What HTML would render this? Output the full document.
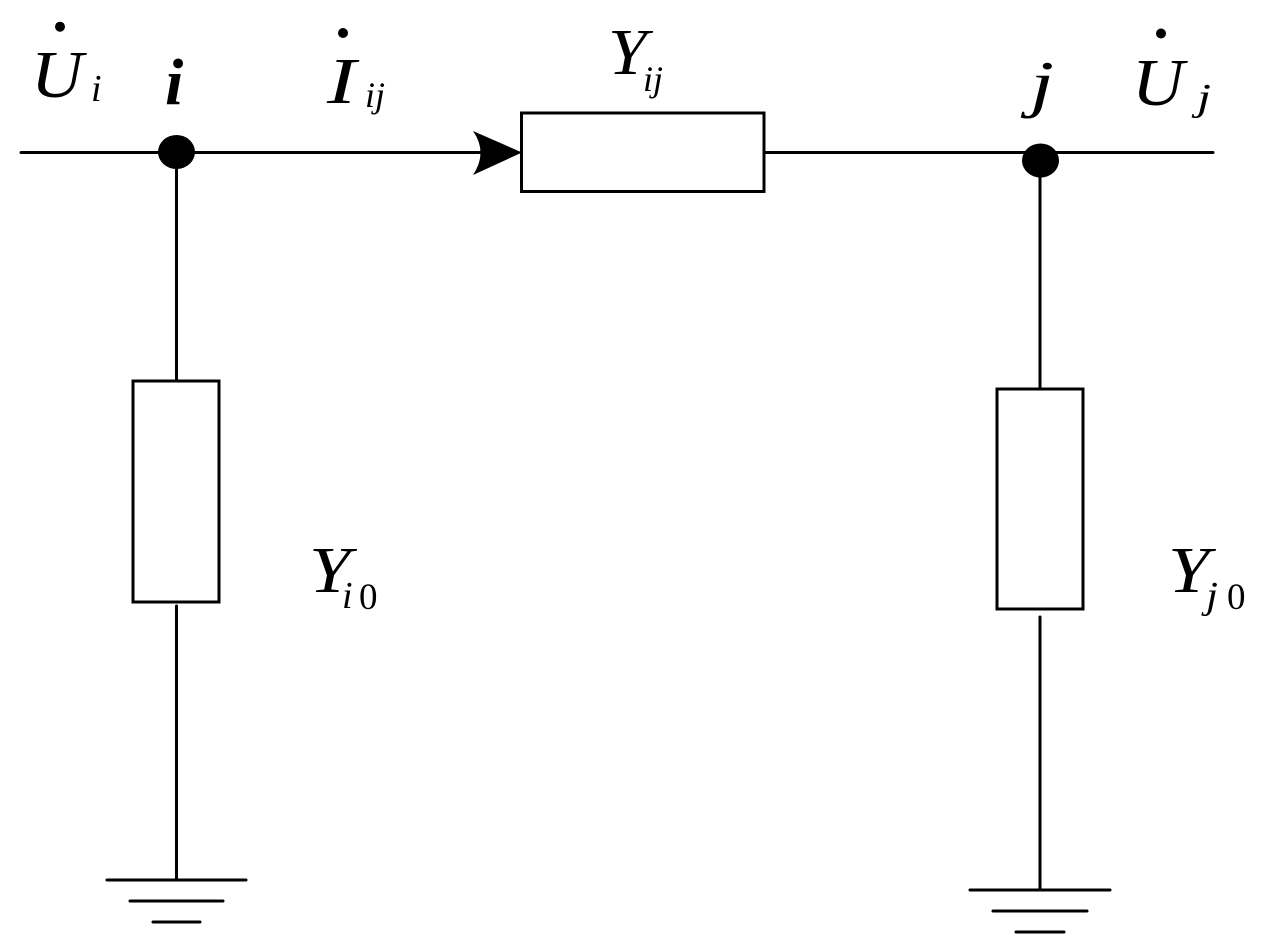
<!DOCTYPE html>
<html><head><meta charset="utf-8"><style>
html,body{margin:0;padding:0;background:#fff;width:1263px;height:951px;overflow:hidden}
svg{display:block}
text{font-family:"Liberation Serif",serif;font-style:italic;fill:#000}
</style></head><body>
<svg width="1263" height="951" viewBox="0 0 1263 951" xmlns="http://www.w3.org/2000/svg">
<g stroke="#000" stroke-width="3" fill="none" stroke-linecap="round">
<path d="M21 152.500H490"/>
<path d="M765 152.500H1213"/>
<rect x="521.500" y="113" width="242.500" height="78.500"/>
<rect x="133" y="381" width="86" height="221"/>
<rect x="997" y="389" width="86" height="220"/>
<path d="M176.500 152V381M176.500 606V880"/>
<path d="M1040 160V389M1040 617V890"/>
<path d="M107 880H246M130 901H223M153 922H200"/>
<path d="M970 890H1110M993 911H1087M1016 932H1064"/>
</g>
<ellipse cx="176.500" cy="152" rx="18.500" ry="17"/>
<ellipse cx="1040.500" cy="160.500" rx="18.500" ry="17"/>
<path d="M473 131L522 152.500L473 175Q488 152.500 473 131Z"/>
<circle cx="60" cy="26.700" r="5"/>
<circle cx="343" cy="33" r="5"/>
<circle cx="1161" cy="33.500" r="5"/>
<text x="31" y="97" font-size="67" textLength="52" lengthAdjust="spacingAndGlyphs">U</text>
<text x="91" y="101" font-size="38">i</text>
<text x="165" y="104" font-size="66" font-weight="bold">i</text>
<text x="327" y="103" font-size="66" textLength="29" lengthAdjust="spacingAndGlyphs">I</text>
<text x="365" y="107" font-size="36">ij</text>
<text x="608" y="74" font-size="66" textLength="39" lengthAdjust="spacingAndGlyphs">Y</text>
<text x="643" y="91" font-size="36">ij</text>
<text x="1030" y="105" font-size="64" textLength="24" lengthAdjust="spacingAndGlyphs">j</text>
<text x="1132" y="105" font-size="67" textLength="52" lengthAdjust="spacingAndGlyphs">U</text>
<text x="1197" y="110" font-size="38" textLength="14" lengthAdjust="spacingAndGlyphs">j</text>
<text x="309" y="592" font-size="66" textLength="41.500" lengthAdjust="spacingAndGlyphs">Y</text>
<text x="342" y="608" font-size="38">i</text>
<text x="359" y="609" font-size="37" style="font-style:normal">0</text>
<text x="1168" y="592" font-size="66" textLength="41.500" lengthAdjust="spacingAndGlyphs">Y</text>
<text x="1206" y="608" font-size="38" textLength="12" lengthAdjust="spacingAndGlyphs">j</text>
<text x="1227" y="609" font-size="37" style="font-style:normal">0</text>
</svg>
</body></html>
